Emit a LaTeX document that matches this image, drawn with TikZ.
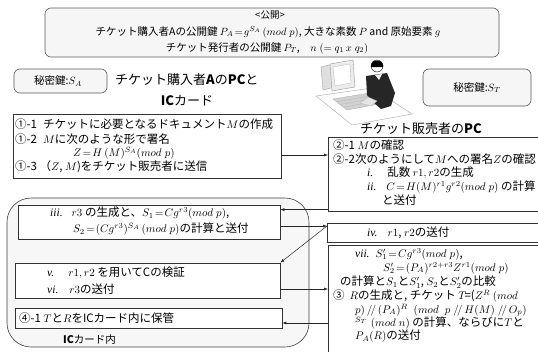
\RequirePackage{fix-cm}
\documentclass[tikz,border=0pt]{standalone}
\usepackage{fontspec}
\setmainfont{Noto Sans CJK JP}
\newfontfamily\romanit{Liberation Serif}
\usetikzlibrary{arrows.meta,calc}
\DeclareMathSizes{11.5}{11}{7.7}{6}
\newcommand{\mdp}[1]{(\mathnormal{mod}\;#1)}
\newcommand{\rn}[1]{{\romanit\itshape #1}}
\tikzset{
  panel/.style={draw=black!80, line width=0.6pt, fill=white},
  keybox/.style={draw=black!65, rounded corners=6pt, fill=gray!7, line width=0.6pt},
  txt/.style={anchor=west, inner sep=0pt, font=\fontsize{11.5}{13}\selectfont},
  ctxt/.style={inner sep=0pt, font=\fontsize{10.5}{12}\selectfont},
  ttl/.style={inner sep=0pt, font=\fontsize{13}{15}\selectfont},
  arr/.style={-{Latex[length=4pt,width=3pt]}, line width=0.5pt, draw=black!85},
}
\begin{document}
\begin{tikzpicture}[x=1pt,y=-1pt]
\useasboundingbox (0,0) rectangle (538,351);

% public information
\node[keybox, minimum width=454pt, minimum height=49pt] (pub) at (272,32.5) {};
\node[ctxt, font=\fontsize{9.5}{11}\selectfont] (pubh) at (270,15) {<公開>};
\node[ctxt] (pub1) at (268,32) {チケット購入者Aの公開鍵 $P_A\!=\!g^{S_A}\,\mdp{p}$, 大きな素数 $P$ and 原始要素 $g$};
\node[ctxt] (pub2) at (267,48) {チケット発行者の公開鍵 $P_T$,\quad $n\;(=q_1\,x\;q_2)$};

% secret keys and titles
\node[keybox, minimum width=93pt, minimum height=24pt] (ska) at (60.5,81) {};
\node[ctxt, font=\fontsize{10.5}{12}\selectfont] (skat) at (58,81) {秘密鍵:$S_A$};
\node[keybox, minimum width=108pt, minimum height=37pt] (skt) at (477,87.5) {};
\node[ctxt, font=\fontsize{10.5}{12}\selectfont] (sktt) at (477,87.5) {秘密鍵:$S_T$};

\node[ttl, anchor=west] (ta1) at (115,80) {チケット購入者\textbf{A}の\textbf{PC}と};
\node[ttl] (ta2) at (187,101) {\textbf{IC}カード};
\node[ttl, anchor=west] (tt) at (360,129) {チケット販売者の\textbf{PC}};

% workstation figure
\fill[gray!25, draw=gray!70, line width=0.4pt] (321,67) -- (337,63) -- (339,86) -- (323,90) -- cycle;
\fill[gray!15, draw=gray!80, line width=0.4pt] (330,64) -- (353,60) -- (355,87) -- (332,91) -- cycle;
\fill[white, draw=gray!60, line width=0.3pt] (333,67) -- (350,64) -- (351,83) -- (335,86) -- cycle;
\fill[white, draw=gray!70, line width=0.4pt] (316,96) -- (372,88) -- (412,114) -- (352,125) -- cycle;
\fill[gray!35, draw=gray!70, line width=0.3pt] (333,99) -- (370,93) -- (384,103) -- (347,110) -- cycle;
\foreach \t in {0.25,0.5,0.75}
  \draw[gray!60, line width=0.3pt] ($(333,99)!\t!(347,110)$) -- ($(370,93)!\t!(384,103)$);
\fill[black!85] (366,76) -- (387,73) -- (395,93) -- (391,106) -- (381,109) -- (373,102) -- (367,95) -- cycle;
\fill[gray!10] (375,75) -- (382,74) -- (379,80) -- cycle;
\fill[white, draw=black, line width=0.4pt] (377,66) circle (6pt);
\fill[black] (371,65) arc (180:360:6pt and -4.5pt) -- (383,67) -- (371,67) -- cycle;
\fill[gray!20, draw=gray!60, line width=0.3pt] (368,97) -- (360,103) -- (371,106) -- (377,101) -- cycle;

% card holder side
\node[draw=black!75, line width=0.6pt, fill=gray!6, rounded corners=24pt,
      minimum width=302pt, minimum height=149pt] (ic) at (158,272.5) {};
\node[inner sep=0pt, anchor=west, font=\fontsize{10.5}{12}\selectfont] (icl) at (63,340) {\textbf{IC}カード内};

\node[panel, minimum width=268pt, minimum height=64pt] (b1) at (147,146) {};
\node[txt] (b1a) at (15,124) {①-1\hspace{6pt}チケットに必要となるドキュメント$M$の作成};
\node[txt] (b1b) at (15,139) {①-2\hspace{6pt}$M$に次のような形で署名};
\node[txt] (b1c) at (73,153) {$Z\!=\!H\,(M)^{S_A}\mdp{p}$};
\node[txt] (b1d) at (15,167) {①-3 （$Z$, $M$)をチケット販売者に送信};

\node[panel, minimum width=262pt, minimum height=34pt] (b3) at (149,222) {};
\node[txt] (b3a) at (50,213) {\rn{iii.}\hspace{9pt}$r3$ の生成と、$S_1\!=\!Cg^{r3}\mdp{p}$,};
\node[txt] (b3b) at (73,229) {$S_2\!=\!(Cg^{r3})^{S_A}\,\mdp{p}$の計算と送付};

\node[panel, minimum width=265pt, minimum height=35pt] (b5) at (147.5,280.5) {};
\node[txt] (b5a) at (47,273) {\rn{v.}\hspace{14pt}$r1,r2$ を用いてCの検証};
\node[txt] (b5b) at (47,289) {\rn{vi.}\hspace{11pt}$r3$の送付};

\node[panel, minimum width=267pt, minimum height=20pt] (b4) at (148.5,318) {};
\node[txt] (b4a) at (19,318) {④-1 $T$と$R$をICカード内に保管};

% ticket seller side
\node[panel, minimum width=212pt, minimum height=74pt, anchor=north west] (b2) at (328,137) {};
\node[txt] (b2a) at (333,145) {②-1 $M$の確認};
\node[txt] (b2b) at (333,159) {②-2次のようにして$M$への署名$Z$の確認};
\node[txt] (b2c) at (367,173) {\rn{i.}\hspace{14pt}乱数 $r1,r2$の生成};
\node[txt] (b2d) at (367,187) {\rn{ii.}\hspace{10pt}$C\!=\!H(M)^{r1}g^{r2}\mdp{p}$ の計算};
\node[txt] (b2e) at (382,200) {と送付};

\node[panel, minimum width=212pt, minimum height=19pt, anchor=north west] (b6) at (327,223) {};
\node[txt] (b6a) at (367,233) {\rn{iv.}\hspace{10pt}$r1$, $r2$の送付};

\node[panel, minimum width=212pt, minimum height=112pt, anchor=north west] (b7) at (328,245) {};
\node[txt] (b7a) at (355,254) {\rn{vii.}\hspace{6pt}$S'_1\!=\!Cg^{r3}\mdp{p}$,};
\node[txt] (b7b) at (383,268) {$S'_2\!=\!(P_A)^{r2+r3}Z^{r1}\mdp{p}$};
\node[txt] (b7c) at (340,282) {の計算と$S_1$と$S'_1$, $S_2$と$S'_2$の比較};
\node[txt] (b7d) at (333,296) {③\hspace{5pt}$R$の生成と, チケット $T\!$=($Z^R$ $(\mathnormal{mod}$};
\node[txt] (b7e) at (355,310) {$p)\,/\!/\,(P_A)^R$\hspace{6pt}$(\mathnormal{mod}\;\; p\;/\!/\,H(M)\;/\!/\,O_p)$};
\node[txt] (b7f) at (355,323) {$^{S_T}$\hspace{4pt}$(\mathnormal{mod}\;n)$ の計算、ならびに$T$と};
\node[txt] (b7g) at (355,336) {$P_A(R)$の送付};

% message flow
\draw[arr] ([yshift=-9pt]b1.east) -- ([yshift=-9pt]b1.east -| b2.west);
\draw[arr] ([yshift=2pt]b2.south west) -- ([yshift=2pt]b2.south west -| b3.east);
\draw[arr] ([yshift=-4pt]b3.east) -- ([yshift=-4pt]b3.east -| b6.west);
\draw[arr] ([yshift=-4pt]b3.east -| b6.west) -- (b5.north east);
\draw[arr] ([yshift=-8.5pt]b5.east) -- ([yshift=-8.5pt]b5.east -| b7.west);
\draw[arr] ([yshift=-5pt]b4.east -| b7.west) -- ([yshift=-5pt]b4.east);
\end{tikzpicture}
\end{document}
